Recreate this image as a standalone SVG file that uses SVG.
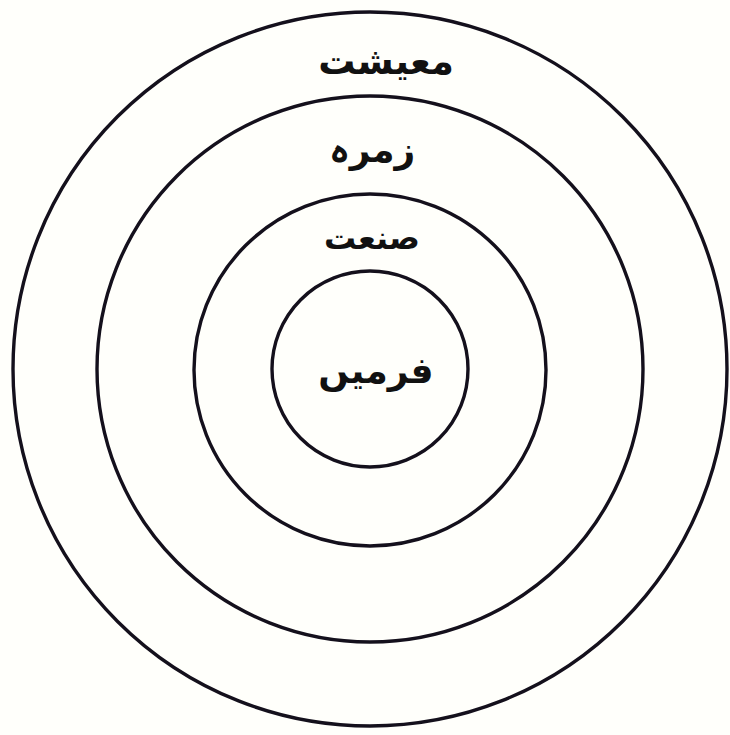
<svg xmlns="http://www.w3.org/2000/svg" width="730" height="735" viewBox="0 0 730 735">
<style>
.ring{fill:none;stroke:#14101c;stroke-width:3.4}
.lbl{font-family:"DejaVu Sans",sans-serif;font-weight:bold;fill:#111;text-anchor:middle;direction:rtl}
</style>
<rect x="0" y="0" width="730" height="735" fill="#fffffb"/>
<g id="economy">
<circle class="ring" cx="370" cy="369" r="357"/>
<text class="lbl" x="386" y="74" font-size="37">معیشت</text>
</g>
<g id="sector">
<circle class="ring" cx="370" cy="369" r="273"/>
<text class="lbl" x="372" y="162" font-size="36">زمرہ</text>
</g>
<g id="industry">
<circle class="ring" cx="370" cy="370" r="176"/>
<text class="lbl" x="372" y="249" font-size="32">صنعت</text>
</g>
<g id="firms">
<circle class="ring" cx="370" cy="369" r="98"/>
<text class="lbl" x="376" y="383" font-size="36">فرمیں</text>
</g>
<g id="connectors"/>
</svg>
